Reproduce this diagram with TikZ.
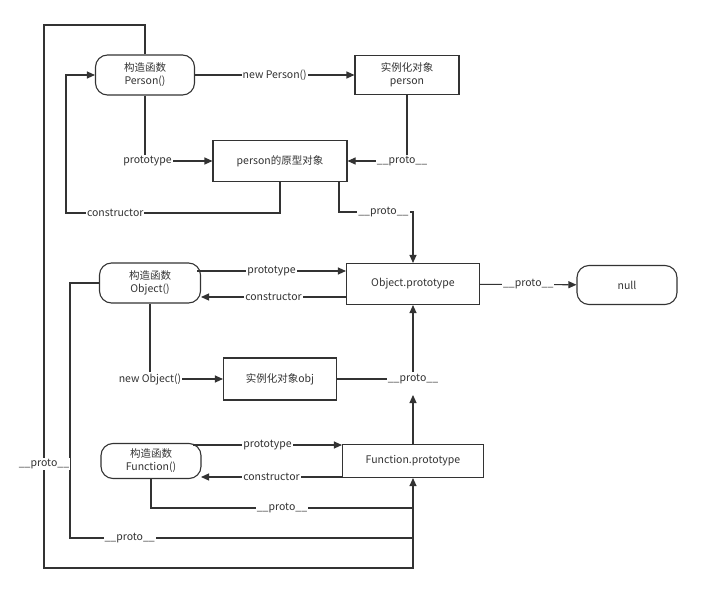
\documentclass[tikz,border=0pt]{standalone}
\usepackage{fontspec}
\setmainfont{Noto Sans CJK SC}
\usetikzlibrary{arrows.meta}

\begin{document}
\begin{tikzpicture}[x=1pt, y=-1pt, font=\fontsize{10.5}{13}\selectfont,
        line width=1.1pt, color={black!80}]
        \tikzstyle{funcStyle} = [draw, rounded corners=12pt, minimum width=99pt, minimum height=40pt, align=center, inner sep=1pt]
        \tikzstyle{objStyle} = [draw, minimum height=41pt, align=center, inner sep=2pt]
        \tikzstyle{lbl} = [fill=white, inner sep=1pt]
        \tikzstyle{arr} = [-{Triangle[length=8pt,width=7pt]}]
        \useasboundingbox (0,0) rectangle (702,594);
        \node[funcStyle] (pfun) at (145,75) {构造函数\\Person()};
        \node[objStyle, minimum width=104pt, minimum height=39pt] (pinst) at (407,75) {实例化对象\\person};
        \node[objStyle, minimum width=134pt] (pproto) at (280,161) {person的原型对象};
        \node[objStyle, minimum width=133pt] (oproto) at (413,284) {Object.prototype};
        \node[funcStyle, minimum width=100pt, minimum height=39pt] (null) at (627,285) {null};
        \node[funcStyle, minimum width=101pt] (ofun) at (150,283) {构造函数\\Object()};
        \node[objStyle, minimum width=113pt, minimum height=42pt] (oinst) at (280,379) {实例化对象obj};
        \node[funcStyle, minimum width=100pt, minimum height=35pt] (ffun) at (151,461) {构造函数\\Function()};
        \node[objStyle, minimum width=141pt, minimum height=33pt] (fproto) at (413,461) {Function.prototype};
        \coordinate (mid) at (413,395);
        % Person
        \draw[arr] (pfun) -- node[lbl] {new Person()} (pinst);
        \draw[arr] (pfun.south) |- node[lbl, pos=1, xshift=-65pt] {prototype} (pproto.west);
        \draw[arr] (pinst.south) |- node[lbl, pos=0.55, xshift=1pt] {\_\_proto\_\_} (pproto.east);
        \draw[arr] (pproto.south) -- (280,213) -- node[lbl, pos=0.77] {constructor} (66,213) |- (pfun.west);
        \draw[arr] (339,182) -- (339,212) -- node[lbl, pos=0.6] {\_\_proto\_\_} (413,212) -- (oproto.north);
        % Object
        \draw[arr] (197,271) -- node[lbl] {prototype} (oproto.west |- 0,271);
        \draw[arr] (oproto.west |- 0,297) -- node[lbl] {constructor} (201,297);
        \draw[arr] (oproto) -- node[lbl] {\_\_proto\_\_} (null);
        \draw[arr] (ofun.south) |- node[lbl, pos=0.5] {new Object()} (oinst.west);
        \draw (oinst.east) -- node[lbl, pos=1] {\_\_proto\_\_} (413,379);
        \draw[arr] (413,372) -- (oproto.south);
        \draw[arr] (fproto.north) -- (mid);
        % Function
        \draw[arr] (193,445) -- node[lbl] {prototype} (fproto.west |- 0,445);
        \draw[arr] (fproto.west |- 0,477) -- node[lbl] {constructor} (201,477);
        \draw[arr] (ffun.south) |- node[lbl, pos=0.75] {\_\_proto\_\_} (413,508) -- (fproto.south);
        \draw (ofun.west) -- (70,283) |- node[lbl, pos=0.587] {\_\_proto\_\_} (413,538);
        \draw (pfun.north) |- (44,25) |- node[lbl, pos=0.404] {\_\_proto\_\_} (413,568) -- (413,508);
\end{tikzpicture}
\end{document}
